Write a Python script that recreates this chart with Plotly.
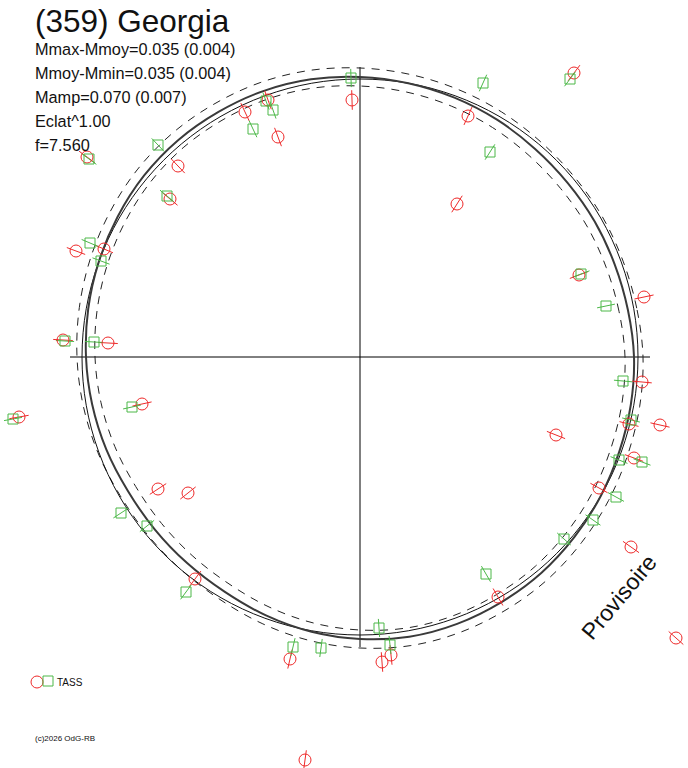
import numpy as np
import plotly.graph_objects as go

# polar light curve: phase angle (deg) -> radius, origin at the centre of the cross
curve_phase = list(range(0, 360, 10))
curve_radius = [274, 272, 271, 271, 271, 272, 274, 276, 278, 280, 282, 283,
                283, 283, 282, 280, 278, 276, 274, 272, 270, 268, 268, 269,
                271, 275, 279, 282, 284, 284, 283, 282, 280, 278, 276, 275]
mean_radius = 278
spread = 9
axis_extent = 290

# TASS measurements (red circles and green squares)
red_x = [214, -8, 108, -115, -92, -82, -273, -182, -190, 97, -284, -256,
         284, 219, -297, -252, 282, -341, -218, 269, 300, 196, 274, -202,
         -172, 239, 271, -165, 138, 316, -70, 22, 31, -55]
red_y = [284, 257, 241, 245, 257, 220, 200, 191, 158, 153, 106, 108,
         60, 82, 17, 14, -25, -60, -47, -67, -68, -78, -101, -132,
         -136, -131, -190, -222, -240, -281, -302, -305, -298, -403]
green_x = [210, 123, 130, -9, -94, -87, -107, -202, -271, -193, -270, -259,
           221, 246, -295, -266, 263, -347, -228, 271, 259, 282, 256, 233,
           204, 126, -239, -213, -174, -67, -39, 19, 30]
green_y = [278, 274, 205, 279, 256, 247, 228, 212, 198, 161, 114, 96,
           83, 51, 16, 15, -24, -62, -50, -63, -103, -105, -140, -163,
           -182, -217, -156, -169, -235, -290, -291, -271, -288]

title = "(359) Georgia"
stats = ["Mmax-Mmoy=0.035 (0.004)", "Mmoy-Mmin=0.035 (0.004)",
         "Mamp=0.070 (0.007)", "Eclat^1.00", "f=7.560"]

RED = "#ee2a2a"
GREEN = "#4cb848"
FONT = "Liberation Sans, Arial, sans-serif"
W, H = 688, 768


def to_xy(phase, radius):
    t = np.radians(np.append(phase, phase[0]))
    r = np.append(radius, radius[0])
    return r * np.cos(t), r * np.sin(t)


def radial_angle(x, y):
    # marker rotation so the bar points away from the centre
    return list(90 - np.degrees(np.arctan2(y, x)))


phase = np.array(curve_phase)
curve = np.array(curve_radius, dtype=float)

fig = go.Figure()

fig.add_trace(go.Scatter(
    x=[-axis_extent, axis_extent, None, 0, 0],
    y=[0, 0, None, axis_extent, -axis_extent],
    mode="lines", line=dict(color="black", width=1),
    showlegend=False, hoverinfo="skip",
))

for offset in (spread, -spread):
    cx, cy = to_xy(phase, curve + offset)
    fig.add_trace(go.Scatter(
        x=cx, y=cy, mode="lines", line_shape="spline",
        line=dict(color="#222222", width=1, dash="8px,7px"),
        showlegend=False, hoverinfo="skip",
    ))

mx, my = to_xy(phase, np.full(len(phase), mean_radius, dtype=float))
fig.add_trace(go.Scatter(
    x=mx, y=my, mode="lines", line_shape="spline",
    line=dict(color="#111111", width=1),
    showlegend=False, hoverinfo="skip",
))

cx, cy = to_xy(phase, curve)
fig.add_trace(go.Scatter(
    x=cx, y=cy, mode="lines", line_shape="spline",
    line=dict(color="#3a3a3a", width=2),
    showlegend=False, hoverinfo="skip",
))

# radial bars through the symbols
fig.add_trace(go.Scatter(
    x=red_x, y=red_y, mode="markers",
    marker=dict(symbol="line-ns-open", size=14, color=RED,
                angle=radial_angle(red_x, red_y), line=dict(color=RED, width=1)),
    showlegend=False, hoverinfo="skip",
))
fig.add_trace(go.Scatter(
    x=green_x, y=green_y, mode="markers",
    marker=dict(symbol="line-ns-open", size=13, color=GREEN,
                angle=radial_angle(green_x, green_y), line=dict(color=GREEN, width=1)),
    showlegend=False, hoverinfo="skip",
))

fig.add_trace(go.Scatter(
    x=red_x, y=red_y, mode="markers", name="TASS", legend="legend",
    marker=dict(symbol="circle-open", size=12, color=RED, line=dict(color=RED, width=1)),
))
fig.add_trace(go.Scatter(
    x=green_x, y=green_y, mode="markers", name=" ", legend="legend2",
    marker=dict(symbol="square-open", size=10, color=GREEN, line=dict(color=GREEN, width=1)),
))

annotations = [dict(
    text=title, x=33 / W, y=1 - 21 / H, xref="paper", yref="paper",
    xanchor="left", yanchor="middle", showarrow=False,
    font=dict(size=31.5, color="#111111", family=FONT),
)]
for i, line in enumerate(stats):
    annotations.append(dict(
        text=line, x=33 / W, y=1 - (49 + 24 * i) / H, xref="paper", yref="paper",
        xanchor="left", yanchor="middle", showarrow=False,
        font=dict(size=16.3, color="#111111", family=FONT),
    ))
annotations.append(dict(
    text="Provisoire", x=619 / W, y=1 - 597 / H, xref="paper", yref="paper",
    xanchor="center", yanchor="middle", showarrow=False, textangle=-50,
    font=dict(size=23, color="#111111", family=FONT),
))
annotations.append(dict(
    text="(c)2026 OdG-RB", x=33 / W, y=1 - 738 / H, xref="paper", yref="paper",
    xanchor="left", yanchor="middle", showarrow=False,
    font=dict(size=8, color="#111111", family=FONT),
))

legend_style = dict(
    orientation="h", yanchor="middle", xanchor="left",
    font=dict(size=10, color="#111111", family=FONT),
    itemwidth=30, bgcolor="rgba(0,0,0,0)",
)

fig.update_layout(
    width=W, height=H,
    margin=dict(l=0, r=0, t=0, b=0),
    paper_bgcolor="white", plot_bgcolor="white",
    xaxis=dict(range=[-360, 328], visible=False, fixedrange=True),
    yaxis=dict(range=[-411, 357], visible=False, fixedrange=True),
    annotations=annotations,
    showlegend=True,
    legend=dict(x=17 / W, y=1 - 682 / H, **legend_style),
    legend2=dict(x=28 / W, y=1 - 681 / H, **legend_style),
)

fig.write_html("out.html", config={"displayModeBar": False},
               post_script="document.body.style.margin='0';")
